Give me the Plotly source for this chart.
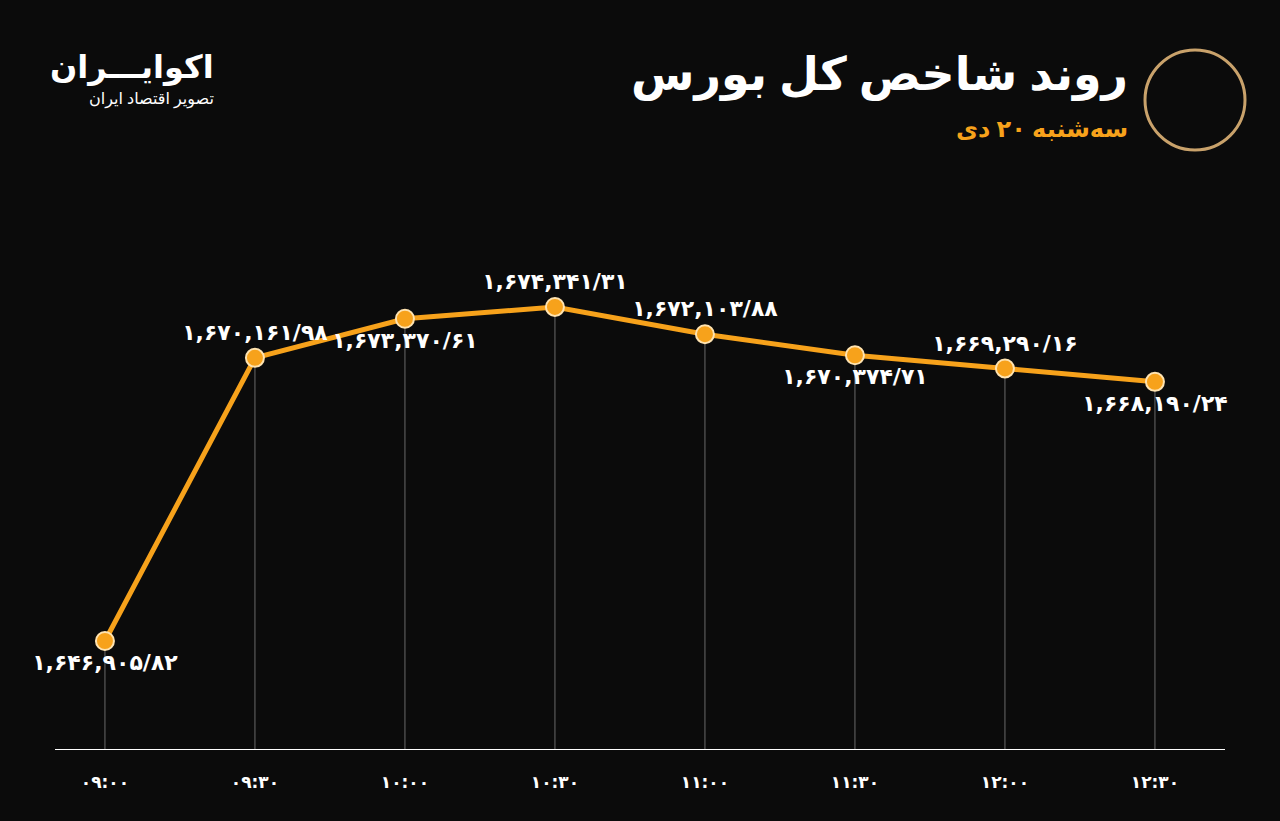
import plotly.graph_objects as go

# data
times = ['۰۹:۰۰', '۰۹:۳۰', '۱۰:۰۰', '۱۰:۳۰', '۱۱:۰۰', '۱۱:۳۰', '۱۲:۰۰', '۱۲:۳۰']
values = [1646905.82, 1670161.98, 1673370.61, 1674341.31, 1672103.88, 1670374.71, 1669290.16, 1668190.24]
labels = ['۱,۶۴۶,۹۰۵/۸۲', '۱,۶۷۰,۱۶۱/۹۸', '۱,۶۷۳,۳۷۰/۶۱', '۱,۶۷۴,۳۴۱/۳۱',
          '۱,۶۷۲,۱۰۳/۸۸', '۱,۶۷۰,۳۷۴/۷۱', '۱,۶۶۹,۲۹۰/۱۶', '۱,۶۶۸,۱۹۰/۲۴']
label_pos = ['bottom center', 'top center', 'bottom center', 'top center',
             'top center', 'bottom center', 'top center', 'bottom center']

y_min, y_max = 1637950, 1680663
x = list(range(len(times)))
orange = '#F7A21B'
W, H = 1280, 821
L, R, T, B = 55, 55, 230, 71


def px(xp, yp):
    # pixel position on the page -> paper coordinates
    return (xp - L) / (W - L - R), 1 - (yp - T) / (H - T - B)


fig = go.Figure()

# drop lines from points to axis
dx, dy = [], []
for i, v in zip(x, values):
    dx += [i, i, None]
    dy += [y_min, v, None]
fig.add_trace(go.Scatter(x=dx, y=dy, mode='lines', line=dict(color='#6a6a6a', width=1),
                         hoverinfo='skip', showlegend=False))

fig.add_trace(go.Scatter(
    x=x, y=values, mode='lines+markers+text', cliponaxis=False,
    line=dict(color=orange, width=5),
    marker=dict(size=18, color=orange, line=dict(color='#FFE3B0', width=2)),
    text=['<b>%s</b>' % t for t in labels], textposition=label_pos,
    textfont=dict(color='white', size=22, family='DejaVu Sans'),
    showlegend=False))

anns = []
for txt, xp, yp, size, color in [
        ('<b>روند شاخص کل بورس</b>', 1130, 72, 46, 'white'),
        ('<b>سه‌شنبه ۲۰ دی</b>', 1130, 127, 24, orange),
        ('<b>اکوایـــران</b>', 216, 65, 32, 'white'),
        ('تصویر اقتصاد ایران', 216, 98, 16, 'white')]:
    ax, ay = px(xp, yp)
    anns.append(dict(text=txt, x=ax, y=ay, xref='paper', yref='paper', showarrow=False,
                     xanchor='right', yanchor='middle',
                     font=dict(color=color, size=size, family='Noto Sans, DejaVu Sans')))

cx0, cy0 = px(1145, 150)
cx1, cy1 = px(1245, 50)

fig.update_layout(
    width=W, height=H,
    paper_bgcolor='#0b0b0b', plot_bgcolor='#0b0b0b',
    margin=dict(l=L, r=R, t=T, b=B),
    xaxis=dict(range=[-0.333, 7.467], tickvals=x, ticktext=['<b>%s</b>' % t for t in times],
               showgrid=False, zeroline=False, showline=False, ticklabelstandoff=20,
               tickfont=dict(color='white', size=17, family='DejaVu Sans')),
    yaxis=dict(range=[y_min, y_max], visible=False),
    shapes=[dict(type='line', xref='paper', yref='y', x0=0, x1=1, y0=y_min, y1=y_min,
                 line=dict(color='white', width=2)),
            dict(type='circle', xref='paper', yref='paper', x0=cx0, x1=cx1, y0=cy0, y1=cy1,
                 line=dict(color='#C9A26B', width=3))],
    annotations=anns,
)

fig.write_html("out.html", config={'displayModeBar': False},
               post_script="document.body.style.margin='0';")
